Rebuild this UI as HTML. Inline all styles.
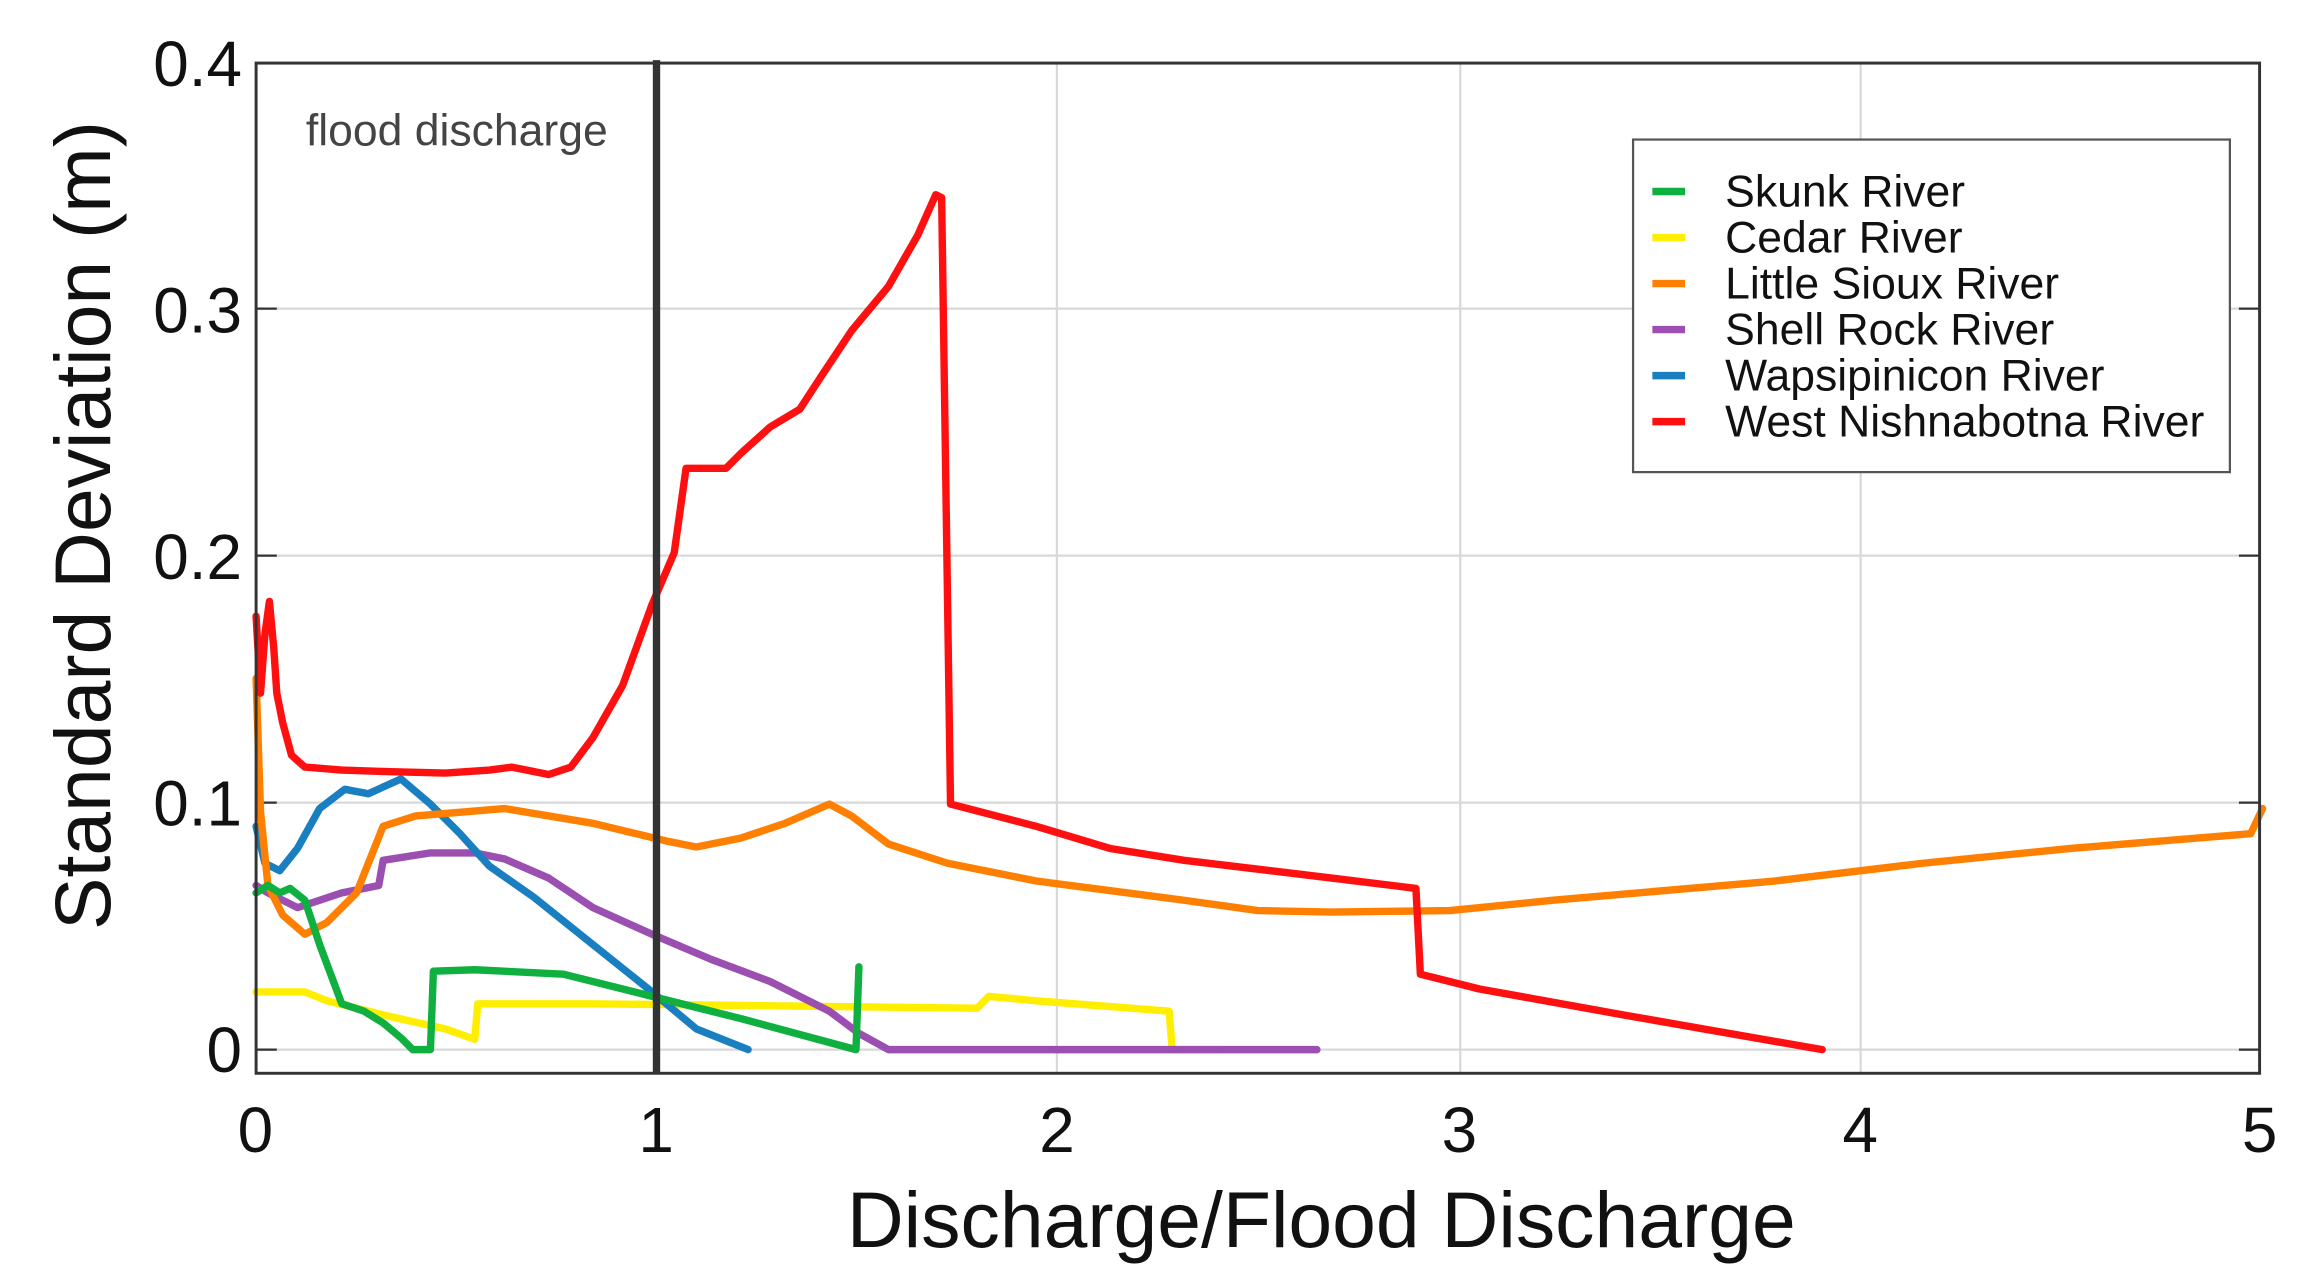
<!DOCTYPE html>
<html><head><meta charset="utf-8"><style>html,body{margin:0;padding:0;background:#fff;}svg{display:block}</style></head>
<body>
<svg width="2316" height="1279" viewBox="0 0 1560 861.5" preserveAspectRatio="none" xmlns="http://www.w3.org/2000/svg" font-family="'Liberation Sans', Arial, sans-serif">
<rect x="0" y="0" width="1560" height="862" fill="#fff"/>
<g transform="matrix(0.99521 0 0 0.99625 1.32 -1.34)">
<g stroke="#d8d8d8" stroke-width="1.5">
<line x1="714" y1="44" x2="714" y2="727"/><line x1="987" y1="44" x2="987" y2="727"/><line x1="1258" y1="44" x2="1258" y2="727"/>
<line x1="172" y1="210" x2="1528" y2="210"/><line x1="172" y1="377" x2="1528" y2="377"/><line x1="172" y1="544" x2="1528" y2="544"/><line x1="172" y1="711" x2="1528" y2="711"/>
</g>
<g stroke="#333" stroke-width="1.5">
<line x1="172" y1="210" x2="186" y2="210"/><line x1="172" y1="377" x2="186" y2="377"/><line x1="172" y1="544" x2="186" y2="544"/><line x1="172" y1="711" x2="186" y2="711"/>
<line x1="1528" y1="210" x2="1514" y2="210"/><line x1="1528" y1="377" x2="1514" y2="377"/><line x1="1528" y1="544" x2="1514" y2="544"/><line x1="1528" y1="711" x2="1514" y2="711"/>
</g>
<g fill="none" stroke-width="5" stroke-linejoin="round" stroke-linecap="round">
<polyline stroke="#ffee00" points="172,672 205,672 220,678 260,688 300,697 320,704 322,680 400,680 660,683 668,675 700,678 790,685 792,711 825,711"/>
<polyline stroke="#9b4fb0" points="172,600 180,605 200,615 230,605 255,600 258,583 290,578 320,578 340,582 370,595 400,615 440,633 480,650 520,665 560,685 580,700 600,711 890,711"/>
<polyline stroke="#1a7fc1" points="172,560 178,585 188,590 200,575 215,548 232,535 248,538 270,528 290,545 310,565 330,587 360,608 400,640 440,672 470,697 505,711"/>
<polyline stroke="#ff8000" points="172,460 175,550 180,600 190,620 205,633 220,625 240,605 258,560 280,553 340,548 400,558 450,570 470,574 500,568 530,558 560,545 575,553 600,572 640,585 700,597 800,610 850,617 900,618 980,617 1050,610 1200,597 1300,585 1400,575 1522,565 1530,548"/>
<polyline stroke="#10b040" points="172,605 180,600 188,605 195,602 205,610 215,640 230,680 245,685 258,693 270,703 278,711 290,711 292,658 320,657 380,660 440,675 500,690 578,711 580,655"/>
<polyline stroke="#ff1010" points="172,418 175,470 178,430 181,408 184,440 186,470 190,490 196,512 205,520 230,522 260,523 300,524 330,522 345,520 370,525 385,520 400,500 420,465 440,410 455,375 463,318 470,318 490,318 500,308 520,290 540,278 555,255 575,225 600,195 620,160 632,133 636,135 642,545 700,560 750,575 800,583 900,595 957,602 960,660 1000,670 1100,688 1232,711"/>
</g>
<line x1="443" y1="42" x2="443" y2="727" stroke="#333" stroke-width="5"/>
<rect x="172" y="44" width="1356" height="683" fill="none" stroke="#333" stroke-width="2"/>
</g>
<text x="206" y="98" font-size="30" fill="#444">flood discharge</text>
<g font-size="43" fill="#111" text-anchor="end">
<text x="163" y="58">0.4</text><text x="163" y="224">0.3</text><text x="163" y="390">0.2</text><text x="163" y="556">0.1</text><text x="163" y="722">0</text>
</g>
<g font-size="43" fill="#111" text-anchor="middle">
<text x="172" y="776">0</text><text x="442" y="776">1</text><text x="712" y="776">2</text><text x="983" y="776">3</text><text x="1253" y="776">4</text><text x="1522" y="776">5</text>
</g>
<text x="890" y="840" font-size="53" fill="#111" text-anchor="middle">Discharge/Flood Discharge</text>
<text transform="translate(74,354) rotate(-90)" font-size="53" fill="#111" text-anchor="middle">Standard Deviation (m)</text>
<rect x="1100" y="94" width="402" height="224" fill="#fff" stroke="#555" stroke-width="1.5"/>
<g stroke-width="5">
<line x1="1113" y1="129" x2="1135" y2="129" stroke="#10b040"/>
<line x1="1113" y1="160" x2="1135" y2="160" stroke="#ffee00"/>
<line x1="1113" y1="191" x2="1135" y2="191" stroke="#ff8000"/>
<line x1="1113" y1="222" x2="1135" y2="222" stroke="#9b4fb0"/>
<line x1="1113" y1="253" x2="1135" y2="253" stroke="#1a7fc1"/>
<line x1="1113" y1="284" x2="1135" y2="284" stroke="#ff1010"/>
</g>
<g font-size="30" fill="#111">
<text x="1162" y="139">Skunk River</text>
<text x="1162" y="170">Cedar River</text>
<text x="1162" y="201">Little Sioux River</text>
<text x="1162" y="232">Shell Rock River</text>
<text x="1162" y="263">Wapsipinicon River</text>
<text x="1162" y="294">West Nishnabotna River</text>
</g>
</svg>
</body></html>
